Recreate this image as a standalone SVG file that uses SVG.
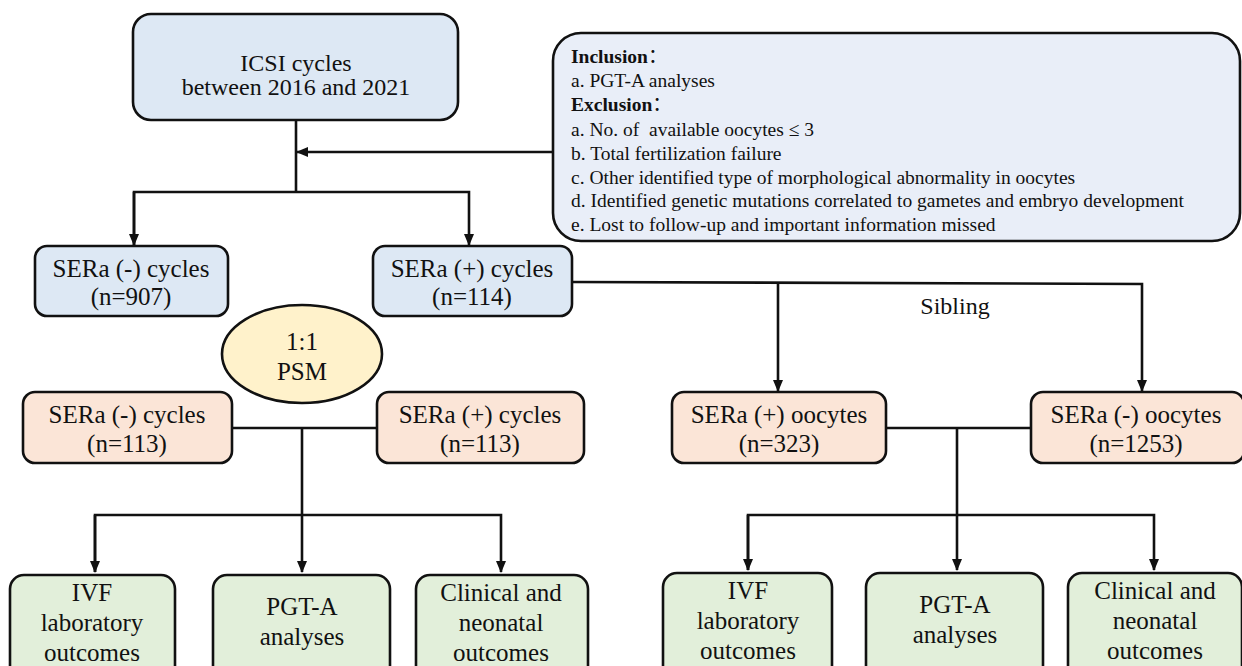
<svg xmlns="http://www.w3.org/2000/svg" width="1242" height="666" viewBox="0 0 1242 666">
<style>
.t{font-family:'Liberation Serif','DejaVu Serif',serif;font-size:25px;fill:#111;text-anchor:middle}
.s{font-family:'Liberation Serif','DejaVu Serif','Noto Sans CJK SC',serif;font-size:19.5px;fill:#111;white-space:pre}
.b{font-weight:bold}
.n{font-weight:normal}
.box{stroke:#111;stroke-width:2.6}
.blue{fill:#dde8f4}
.incl{fill:#e9eef8}
.pink{fill:#fbe5d7}
.green{fill:#e2efda}
.yel{fill:#fff2cb}
.ln{fill:none;stroke:#111;stroke-width:2.6}
</style>
<defs>
<marker id="ah" markerUnits="userSpaceOnUse" markerWidth="12" markerHeight="12" viewBox="0 0 12 12" refX="11" refY="6" orient="auto">
<path d="M0,1 L12,6 L0,11 Z" fill="#111"/>
</marker>
</defs>
<rect width="1242" height="666" fill="#fff"/>
<g id="connectors">
<line class="ln" x1="296" y1="120" x2="296" y2="192"/>
<line class="ln" x1="553" y1="152" x2="297" y2="152" marker-end="url(#ah)"/>
<polyline class="ln" points="134,245 134,192 469,192 469,245" marker-end="url(#ah)"/>
<line class="ln" x1="134" y1="192" x2="134" y2="245" marker-end="url(#ah)"/>
<polyline class="ln" points="572,282 1142,284 1142,391" marker-end="url(#ah)"/>
<line class="ln" x1="778" y1="283" x2="778" y2="391" marker-end="url(#ah)"/>
<line class="ln" x1="232" y1="428" x2="377" y2="428"/>
<line class="ln" x1="302" y1="428" x2="302" y2="572" marker-end="url(#ah)"/>
<polyline class="ln" points="95,572 95,515 501,515 501,572" marker-end="url(#ah)"/>
<line class="ln" x1="95" y1="515" x2="95" y2="572" marker-end="url(#ah)"/>
<line class="ln" x1="886" y1="428" x2="1031" y2="428"/>
<line class="ln" x1="957" y1="428" x2="957" y2="570" marker-end="url(#ah)"/>
<polyline class="ln" points="748,570 748,515 1154,515 1154,570" marker-end="url(#ah)"/>
<line class="ln" x1="748" y1="515" x2="748" y2="570" marker-end="url(#ah)"/>
<text class="t" x="955" y="314" style="font-size:24px">Sibling</text>
</g>
<g id="icsi">
<rect class="box blue" x="133" y="14" width="325" height="106" rx="18"/>
<text class="t" x="296" y="71" style="font-size:24px">ICSI cycles</text>
<text class="t" x="296" y="95" style="font-size:24px">between 2016 and 2021</text>
</g>
<g id="criteria">
<rect class="box incl" x="553" y="33" width="687" height="208" rx="28"/>
<text class="s b" x="571" y="63">Inclusion<tspan class="n">：</tspan></text>
<text class="s" x="571" y="87">a. PGT-A analyses</text>
<text class="s b" x="571" y="111">Exclusion<tspan class="n">：</tspan></text>
<text class="s" x="571" y="136">a. No. of  available oocytes ≤ 3</text>
<text class="s" x="571" y="160">b. Total fertilization failure</text>
<text class="s" x="571" y="184">c. Other identified type of morphological abnormality in oocytes</text>
<text class="s" x="571" y="207">d. Identified genetic mutations correlated to gametes and embryo development</text>
<text class="s" x="571" y="231">e. Lost to follow-up and important information missed</text>
</g>
<g id="sera-neg-cycles">
<rect class="box blue" x="35" y="246" width="193" height="70" rx="12"/>
<text class="t" x="131" y="277">SERa (-) cycles</text>
<text class="t" x="131" y="305">(n=907)</text>
</g>
<g id="sera-pos-cycles">
<rect class="box blue" x="373" y="246" width="199" height="70" rx="12"/>
<text class="t" x="472" y="277">SERa (+) cycles</text>
<text class="t" x="472" y="305">(n=114)</text>
</g>
<g id="psm">
<ellipse class="box yel" cx="302" cy="354" rx="80" ry="49"/>
<text class="t" x="302" y="350">1:1</text>
<text class="t" x="302" y="380">PSM</text>
</g>
<g id="psm-neg">
<rect class="box pink" x="23" y="392" width="209" height="71" rx="12"/>
<text class="t" x="127" y="423">SERa (-) cycles</text>
<text class="t" x="127" y="452">(n=113)</text>
</g>
<g id="psm-pos">
<rect class="box pink" x="377" y="392" width="207" height="71" rx="12"/>
<text class="t" x="480" y="423">SERa (+) cycles</text>
<text class="t" x="480" y="452">(n=113)</text>
</g>
<g id="sib-pos">
<rect class="box pink" x="672" y="392" width="214" height="71" rx="12"/>
<text class="t" x="779" y="423">SERa (+) oocytes</text>
<text class="t" x="779" y="452">(n=323)</text>
</g>
<g id="sib-neg">
<rect class="box pink" x="1031" y="392" width="213" height="71" rx="12"/>
<text class="t" x="1136" y="423">SERa (-) oocytes</text>
<text class="t" x="1136" y="452">(n=1253)</text>
</g>
<g id="l-ivf">
<rect class="box green" x="10" y="575" width="165" height="110" rx="14"/>
<text class="t" x="92" y="601">IVF</text>
<text class="t" x="92" y="631">laboratory</text>
<text class="t" x="92" y="661">outcomes</text>
</g>
<g id="l-pgta">
<rect class="box green" x="213" y="575" width="177" height="110" rx="14"/>
<text class="t" x="302" y="615">PGT-A</text>
<text class="t" x="302" y="645">analyses</text>
</g>
<g id="l-clin">
<rect class="box green" x="416" y="575" width="172" height="110" rx="14"/>
<text class="t" x="501" y="601">Clinical and</text>
<text class="t" x="501" y="631">neonatal</text>
<text class="t" x="501" y="661">outcomes</text>
</g>
<g id="r-ivf">
<rect class="box green" x="663" y="573" width="169" height="110" rx="14"/>
<text class="t" x="748" y="599">IVF</text>
<text class="t" x="748" y="629">laboratory</text>
<text class="t" x="748" y="659">outcomes</text>
</g>
<g id="r-pgta">
<rect class="box green" x="866" y="573" width="177" height="110" rx="14"/>
<text class="t" x="955" y="613">PGT-A</text>
<text class="t" x="955" y="643">analyses</text>
</g>
<g id="r-clin">
<rect class="box green" x="1068" y="573" width="174" height="110" rx="14"/>
<text class="t" x="1155" y="599">Clinical and</text>
<text class="t" x="1155" y="629">neonatal</text>
<text class="t" x="1155" y="659">outcomes</text>
</g>
</svg>
